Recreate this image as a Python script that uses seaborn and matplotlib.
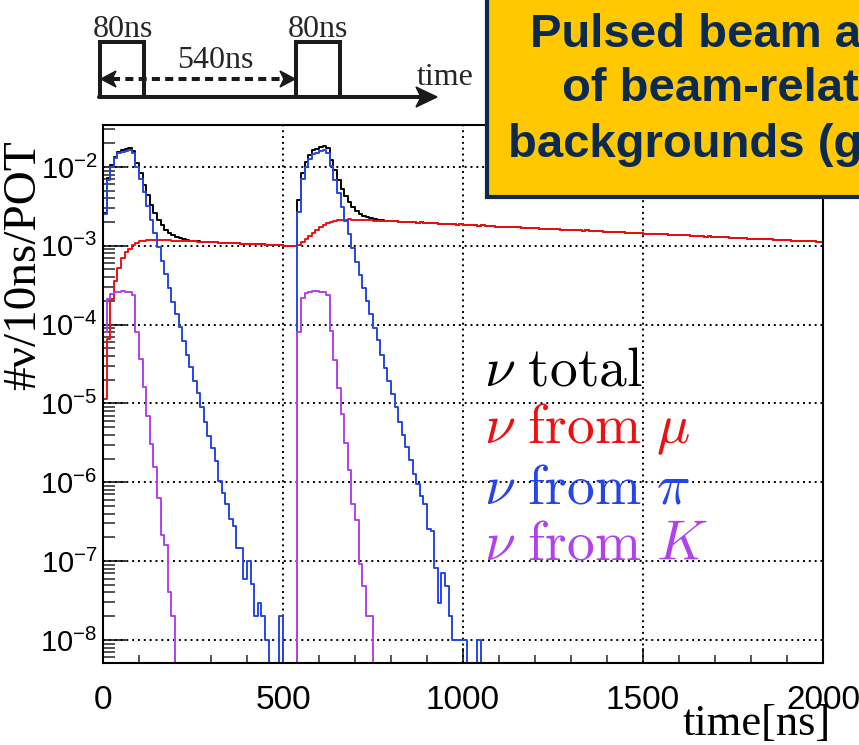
import numpy as np
import pandas as pd
import matplotlib
matplotlib.use("Agg")
import matplotlib.pyplot as plt
import seaborn as sns
from matplotlib.patches import Rectangle, Polygon
from matplotlib.ticker import LogLocator, MultipleLocator, NullFormatter

nan = float("nan")

# ---------------- data (log10 of #nu / 10ns / POT per 10 ns bin, nan = empty bin) ----------------
bin_width = 10
t_max = 2000

log_nu_mu = [
    -4.95, -4.18, -3.68, -3.45, -3.28, -3.15, -3.08, -3.035, -2.995, -2.96,
    -2.945, -2.935, -2.93, -2.928, -2.927, -2.928, -2.93, -2.932, -2.931, -2.935,
    -2.937, -2.940, -2.939, -2.943, -2.945, -2.944, -2.949, -2.950, -2.953, -2.952,
    -2.956, -2.958, -2.961, -2.960, -2.964, -2.966, -2.966, -2.970, -2.972, -2.972,
    -2.976, -2.978, -2.980, -2.980, -2.984, -2.986, -2.988, -2.990, -2.993, -2.995,
    -2.999, -3.002, -3.005, -3.007, -2.992, -2.955, -2.915, -2.875, -2.835, -2.795,
    -2.762, -2.735, -2.714, -2.698, -2.686, -2.677, -2.672, -2.668, -2.667, -2.669,
    -2.670, -2.673, -2.675, -2.676, -2.679, -2.680, -2.683, -2.685, -2.688, -2.687,
    -2.691, -2.690, -2.697, -2.697, -2.703, -2.700, -2.704, -2.709, -2.705, -2.713,
    -2.712, -2.716, -2.714, -2.720, -2.719, -2.725, -2.722, -2.728, -2.731, -2.729,
    -2.737, -2.734, -2.741, -2.740, -2.746, -2.743, -2.748, -2.752, -2.750, -2.757,
    -2.756, -2.761, -2.759, -2.765, -2.766, -2.768, -2.773, -2.770, -2.776, -2.778,
    -2.779, -2.782, -2.786, -2.783, -2.789, -2.790, -2.788, -2.795, -2.797, -2.796,
    -2.802, -2.801, -2.806, -2.808, -2.806, -2.812, -2.815, -2.813, -2.818, -2.821,
    -2.823, -2.826, -2.824, -2.830, -2.831, -2.833, -2.837, -2.835, -2.841, -2.843,
    -2.845, -2.847, -2.850, -2.849, -2.854, -2.856, -2.855, -2.861, -2.862, -2.866,
    -2.867, -2.869, -2.868, -2.874, -2.876, -2.875, -2.880, -2.883, -2.882, -2.888,
    -2.889, -2.890, -2.895, -2.894, -2.898, -2.901, -2.900, -2.905, -2.907, -2.909,
    -2.911, -2.913, -2.912, -2.918, -2.920, -2.919, -2.924, -2.926, -2.928, -2.931,
    -2.933, -2.935, -2.934, -2.940, -2.941, -2.943, -2.946, -2.945, -2.950, -2.952,
]

log_nu_pi = [
    -2.60, -2.16, -2.00, -1.89, -1.83, -1.815, -1.80, -1.785, -1.83, -2.00,
    -2.15, -2.32, -2.50, -2.67, -2.84, -3.02, -3.19, -3.36, -3.53, -3.71,
    -3.86, -4.03, -4.21, -4.39, -4.54, -4.71, -4.87, -5.04, -5.24, -5.41,
    -5.56, -5.73, -5.98, -6.14, -6.27, -6.47, -6.56, -6.83, -6.83, -7.23,
    -7.00, -7.29, -7.70, -7.53, -7.70, -8.00, nan, nan, nan, -7.70,
    nan, nan, nan, nan, -2.57, -2.15, -2.00, -1.90, -1.84, -1.82,
    -1.80, -1.79, -1.82, -1.99, -2.16, -2.33, -2.51, -2.68, -2.85, -3.03,
    -3.20, -3.37, -3.54, -3.70, -3.87, -4.04, -4.20, -4.38, -4.55, -4.72,
    -4.88, -5.05, -5.23, -5.40, -5.55, -5.72, -5.90, -6.02, -6.17, -6.28,
    -6.59, -6.62, -7.09, -7.53, -7.15, -7.32, -7.70, -8.00, -8.00, -8.00,
    -8.00, nan, nan, nan, -8.00,
] + [nan] * 95

log_nu_K = [
    -4.10, -3.67, -3.61, -3.59, -3.585, -3.58, -3.585, -3.59, -3.63, -4.10,
    -4.44, -4.79, -5.16, -5.52, -5.81, -6.20, -6.67, -6.80, -7.39, -7.70,
] + [nan] * 34 + [
    -4.10, -3.66, -3.60, -3.585, -3.58, -3.58, -3.585, -3.59, -3.62, -4.08,
    -4.45, -4.80, -5.14, -5.50, -5.85, -6.27, -6.48, -7.04, -7.31, -7.70, -7.70,
] + [nan] * 125

legend_texts = [r"$\nu\ \mathrm{total}$", r"$\nu\ \mathrm{from}\ \mu$",
                r"$\nu\ \mathrm{from}\ \pi$", r"$\nu\ \mathrm{from}\ K$"]
sources = ["total", "mu", "pi", "K"]
colors = {"total": "#000000", "mu": "#ee1010", "pi": "#2645e6", "K": "#b042ee"}

pulse_labels = ["80ns", "540ns", "80ns", "time"]
box_lines = ["Pulsed beam a", "of beam-relat", "backgrounds (g"]
y_label = "#ν/10ns/POT"
x_label = "time[ns]"

y_bottom, y_top = 5.1e-9, 3.4e-2

# ---------------- build long-form table ----------------
edges = np.arange(0, t_max + bin_width, bin_width)

def to_lin(logs):
    a = np.array(logs, dtype=float)
    assert len(a) == len(edges) - 1
    return np.where(np.isnan(a), 0.0, 10.0 ** a)

mu = to_lin(log_nu_mu)
pi = to_lin(log_nu_pi)
K = to_lin(log_nu_K)
total = mu + pi + K

frames = []
for name, v in zip(sources, [total, mu, pi, K]):
    y = np.where(v > 0, v, y_bottom)
    frames.append(pd.DataFrame({"time": edges, "rate": np.append(y, y[-1]), "source": name}))
df = pd.concat(frames, ignore_index=True)

# ---------------- figure ----------------
sns.set_theme(style="ticks")
plt.rcParams["font.family"] = ["Liberation Sans", "DejaVu Sans"]
plt.rcParams["mathtext.fontset"] = "custom"
plt.rcParams["mathtext.rm"] = "Liberation Sans"
plt.rcParams["mathtext.it"] = "Liberation Sans:italic"
plt.rcParams["mathtext.bf"] = "Liberation Sans:bold"
plt.rcParams["axes.unicode_minus"] = False

W, H = 859, 745
fig = plt.figure(figsize=(W / 100, H / 100), dpi=100)
fig.patch.set_facecolor("white")
ax = fig.add_axes([103 / W, (H - 663) / H, 720 / W, (663 - 125) / H])
ax.set_facecolor("white")

sns.lineplot(data=df, x="time", y="rate", hue="source", hue_order=sources,
             palette=colors, drawstyle="steps-post", estimator=None, sort=False,
             legend=False, linewidth=1.4, ax=ax, clip_on=False)

ax.set_yscale("log")
ax.set_xlim(0, t_max)
ax.set_ylim(y_bottom, y_top)
ax.xaxis.label.set_visible(False)
ax.yaxis.label.set_visible(False)

ax.xaxis.set_major_locator(MultipleLocator(500))
ax.xaxis.set_minor_locator(MultipleLocator(100))
ax.yaxis.set_major_locator(LogLocator(base=10, numticks=20))
ax.yaxis.set_minor_locator(LogLocator(base=10, subs=np.arange(2, 10), numticks=20))
ax.yaxis.set_minor_formatter(NullFormatter())

ax.grid(True, which="major", color="black", linestyle=(0, (1, 2)), linewidth=1.4)
ax.set_axisbelow(True)

for s in ax.spines.values():
    s.set_linewidth(1.5)
    s.set_color("black")

ax.tick_params(axis="x", which="major", direction="in", length=10.8, width=1.1,
               labelsize=24, pad=16, top=False, colors="black")
ax.tick_params(axis="x", which="minor", direction="in", length=5.8, width=1.1, top=False)
ax.tick_params(axis="y", which="major", direction="in", length=16.6, width=1.1,
               labelsize=21, pad=4, right=False, colors="black")
ax.tick_params(axis="y", which="minor", direction="in", length=8.6, width=1.1, right=False)

# ---------------- overlay in pixel coordinates ----------------
ov = fig.add_axes([0, 0, 1, 1], zorder=10)
ov.set_xlim(0, W)
ov.set_ylim(H, 0)
ov.axis("off")
ov.patch.set_alpha(0)

# legend text
for txt, name, yb in zip(legend_texts, sources, [385, 443, 503, 560]):
    ov.text(484, yb, txt, fontsize=40, color=colors[name], va="baseline", ha="left",
            math_fontfamily="cm")

# axis titles
ov.text(24, 265, y_label, rotation=90, fontsize=34, family="Liberation Serif",
        ha="center", va="center", color="black")
ov.text(831, 735, x_label, fontsize=32, family="Liberation Serif",
        ha="right", va="baseline", color="black")

# pulse timing sketch
lw_d = 2.9
ov.plot([100, 100, 144, 144], [97, 42, 42, 97], color="k", lw=lw_d, solid_joinstyle="miter")
ov.plot([296, 296, 340, 340], [97, 42, 42, 97], color="k", lw=lw_d, solid_joinstyle="miter")
ov.plot([99, 422], [97, 97], color="k", lw=lw_d)
ov.add_patch(Polygon([[437, 97], [416, 87], [421, 97], [416, 107]], closed=True, color="k"))
ov.plot([112, 283], [79, 79], color="k", lw=lw_d, linestyle=(0, (2.0, 1.3)))
ov.add_patch(Polygon([[101, 79], [116, 71], [112, 79], [116, 87]], closed=True, color="k"))
ov.add_patch(Polygon([[295, 79], [280, 71], [284, 79], [280, 87]], closed=True, color="k"))
ov.text(123, 37, pulse_labels[0], fontsize=23, family="Liberation Serif", ha="center", va="baseline")
ov.text(215, 68, pulse_labels[1], fontsize=23, family="Liberation Serif", ha="center", va="baseline")
ov.text(318, 37, pulse_labels[2], fontsize=23, family="Liberation Serif", ha="center", va="baseline")
ov.text(417, 85, pulse_labels[3], fontsize=23, family="Liberation Serif", ha="left", va="baseline")

# yellow call-out box (cut by the right edge)
ov.add_patch(Rectangle((487, -30), 500, 227, facecolor="#ffc800", edgecolor="#0d2a4d", lw=3))
for txt, xs, yb in zip(box_lines, [530, 562, 508], [47, 101, 157]):
    ov.text(xs, yb, txt, fontsize=34, weight="bold", color="#0b2a4f",
            family="Liberation Sans", ha="left", va="baseline")

fig.savefig("out.png", dpi=100)
